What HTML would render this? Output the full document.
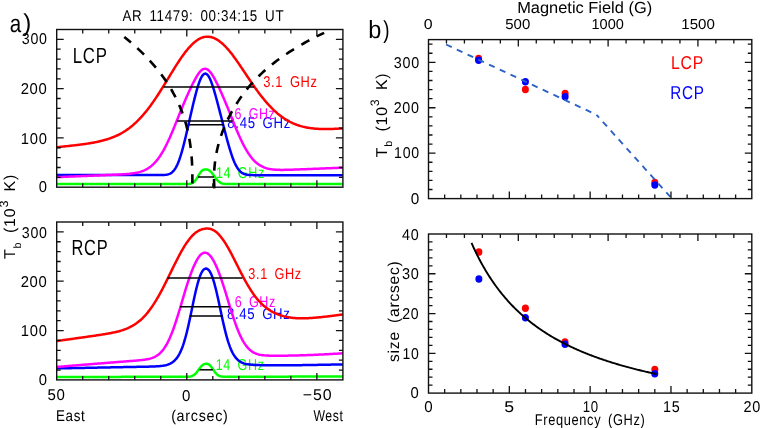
<!DOCTYPE html>
<html><head><meta charset="utf-8"><title>AR 11479</title>
<style>html,body{margin:0;padding:0;background:#fff;}body{width:760px;height:428px;overflow:hidden;font-family:"Liberation Sans",sans-serif;}svg{display:block;will-change:transform}</style>
</head><body>
<svg width="760" height="428" viewBox="0 0 760 428">
<rect width="760" height="428" fill="#fff"/>
<path d="M56.70 184.03 L57.66 184.03 L58.61 184.03 L59.57 184.03 L60.53 184.03 L61.49 184.03 L62.44 184.03 L63.40 184.03 L64.36 184.03 L65.31 184.03 L66.27 184.03 L67.23 184.03 L68.19 184.03 L69.14 184.03 L70.10 184.03 L71.06 184.03 L72.02 184.03 L72.97 184.03 L73.93 184.03 L74.89 184.03 L75.84 184.03 L76.80 184.03 L77.76 184.03 L78.72 184.03 L79.67 184.03 L80.63 184.03 L81.59 184.03 L82.54 184.03 L83.50 184.03 L84.46 184.03 L85.42 184.03 L86.37 184.03 L87.33 184.03 L88.29 184.03 L89.24 184.03 L90.20 184.03 L91.16 184.03 L92.12 184.03 L93.07 184.03 L94.03 184.03 L94.99 184.03 L95.94 184.03 L96.90 184.03 L97.86 184.03 L98.82 184.03 L99.77 184.03 L100.73 184.03 L101.69 184.03 L102.65 184.03 L103.60 184.03 L104.56 184.03 L105.52 184.03 L106.47 184.03 L107.43 184.03 L108.39 184.03 L109.35 184.03 L110.30 184.03 L111.26 184.03 L112.22 184.03 L113.17 184.02 L114.13 184.02 L115.09 184.02 L116.05 184.02 L117.00 184.02 L117.96 184.02 L118.92 184.02 L119.87 184.02 L120.83 184.02 L121.79 184.02 L122.75 184.02 L123.70 184.02 L124.66 184.02 L125.62 184.02 L126.57 184.02 L127.53 184.02 L128.49 184.02 L129.45 184.02 L130.40 184.02 L131.36 184.02 L132.32 184.02 L133.28 184.02 L134.23 184.02 L135.19 184.02 L136.15 184.02 L137.10 184.02 L138.06 184.02 L139.02 184.02 L139.98 184.02 L140.93 184.02 L141.89 184.02 L142.85 184.02 L143.80 184.02 L144.76 184.02 L145.72 184.02 L146.68 184.02 L147.63 184.02 L148.59 184.02 L149.55 184.02 L150.50 184.02 L151.46 184.02 L152.42 184.02 L153.38 184.02 L154.33 184.02 L155.29 184.02 L156.25 184.02 L157.21 184.02 L158.16 184.02 L159.12 184.02 L160.08 184.02 L161.03 184.02 L161.99 184.02 L162.95 184.02 L163.91 184.02 L164.86 184.02 L165.82 184.02 L166.78 184.02 L167.73 184.02 L168.69 184.02 L169.65 184.02 L170.61 184.02 L171.56 184.02 L172.52 184.02 L173.48 184.02 L174.43 184.02 L175.39 184.02 L176.35 184.02 L177.31 184.02 L178.26 184.02 L179.22 184.02 L180.18 184.02 L181.13 184.02 L182.09 184.02 L183.05 184.02 L184.01 184.02 L184.96 184.02 L185.92 184.01 L186.88 184.00 L187.84 183.98 L188.79 183.93 L189.75 183.83 L190.71 183.66 L191.66 183.38 L192.62 182.93 L193.58 182.28 L194.54 181.38 L195.49 180.23 L196.45 178.86 L197.41 177.32 L198.36 175.69 L199.32 174.11 L200.28 172.66 L201.24 171.44 L202.19 170.52 L203.15 169.91 L204.11 169.59 L205.06 169.48 L206.02 169.48 L206.98 169.57 L207.94 169.81 L208.89 170.24 L209.85 170.88 L210.81 171.73 L211.76 172.78 L212.72 173.99 L213.68 175.30 L214.64 176.65 L215.59 177.98 L216.55 179.22 L217.51 180.34 L218.47 181.29 L219.42 182.07 L220.38 182.68 L221.34 183.14 L222.29 183.46 L223.25 183.68 L224.21 183.82 L225.17 183.91 L226.12 183.96 L227.08 183.99 L228.04 184.00 L228.99 184.01 L229.95 184.01 L230.91 184.01 L231.87 184.01 L232.82 184.01 L233.78 184.01 L234.74 184.01 L235.69 184.01 L236.65 184.01 L237.61 184.01 L238.57 184.01 L239.52 184.01 L240.48 184.01 L241.44 184.01 L242.39 184.01 L243.35 184.01 L244.31 184.01 L245.27 184.01 L246.22 184.01 L247.18 184.01 L248.14 184.01 L249.10 184.01 L250.05 184.01 L251.01 184.01 L251.97 184.01 L252.92 184.01 L253.88 184.01 L254.84 184.01 L255.80 184.01 L256.75 184.01 L257.71 184.01 L258.67 184.01 L259.62 184.01 L260.58 184.01 L261.54 184.01 L262.50 184.01 L263.45 184.01 L264.41 184.01 L265.37 184.01 L266.32 184.01 L267.28 184.01 L268.24 184.01 L269.20 184.01 L270.15 184.01 L271.11 184.01 L272.07 184.01 L273.03 184.01 L273.98 184.01 L274.94 184.01 L275.90 184.01 L276.85 184.01 L277.81 184.01 L278.77 184.01 L279.73 184.01 L280.68 184.01 L281.64 184.01 L282.60 184.01 L283.55 184.01 L284.51 184.01 L285.47 184.01 L286.43 184.01 L287.38 184.01 L288.34 184.01 L289.30 184.01 L290.25 184.01 L291.21 184.01 L292.17 184.01 L293.13 184.01 L294.08 184.01 L295.04 184.01 L296.00 184.01 L296.95 184.01 L297.91 184.01 L298.87 184.01 L299.83 184.01 L300.78 184.01 L301.74 184.01 L302.70 184.01 L303.66 184.01 L304.61 184.01 L305.57 184.01 L306.53 184.01 L307.48 184.01 L308.44 184.01 L309.40 184.01 L310.36 184.01 L311.31 184.01 L312.27 184.01 L313.23 184.00 L314.18 184.00 L315.14 184.00 L316.10 184.00 L317.06 184.00 L318.01 184.00 L318.97 184.00 L319.93 184.00 L320.88 184.00 L321.84 184.00 L322.80 184.00 L323.76 184.00 L324.71 184.00 L325.67 184.00 L326.63 184.00 L327.58 184.00 L328.54 184.00 L329.50 184.00 L330.46 184.00 L331.41 184.00 L332.37 184.00 L333.33 184.00 L334.29 184.00 L335.24 184.00 L336.20 184.00 L337.16 184.00 L338.11 184.00 L339.07 184.00 L340.03 184.00 L340.99 184.00 L341.94 184.00 L342.90 184.00" stroke="#00ff00" stroke-width="2.5" fill="none" stroke-linejoin="round"/>
<text id="g14_1" font-family="Liberation Sans, sans-serif" font-size="15.70" fill="#00ff00" letter-spacing="0.05em" word-spacing="0.2em" textLength="48.99" lengthAdjust="spacingAndGlyphs" text-rendering="geometricPrecision" x="215.94" y="177.75" xml:space="preserve">14 GHz</text>
<path d="M56.70 174.98 L57.66 174.98 L58.61 174.98 L59.57 174.98 L60.53 174.99 L61.49 174.99 L62.44 174.99 L63.40 174.99 L64.36 174.99 L65.31 174.99 L66.27 174.99 L67.23 174.99 L68.19 174.99 L69.14 174.99 L70.10 174.99 L71.06 174.99 L72.02 175.00 L72.97 175.00 L73.93 175.00 L74.89 175.00 L75.84 175.00 L76.80 175.00 L77.76 175.00 L78.72 175.00 L79.67 175.00 L80.63 175.00 L81.59 175.00 L82.54 175.00 L83.50 175.01 L84.46 175.01 L85.42 175.01 L86.37 175.01 L87.33 175.01 L88.29 175.01 L89.24 175.01 L90.20 175.01 L91.16 175.01 L92.12 175.01 L93.07 175.01 L94.03 175.02 L94.99 175.02 L95.94 175.02 L96.90 175.02 L97.86 175.02 L98.82 175.02 L99.77 175.02 L100.73 175.02 L101.69 175.02 L102.65 175.02 L103.60 175.02 L104.56 175.02 L105.52 175.03 L106.47 175.03 L107.43 175.03 L108.39 175.03 L109.35 175.03 L110.30 175.03 L111.26 175.03 L112.22 175.03 L113.17 175.03 L114.13 175.03 L115.09 175.03 L116.05 175.04 L117.00 175.04 L117.96 175.04 L118.92 175.04 L119.87 175.04 L120.83 175.04 L121.79 175.04 L122.75 175.04 L123.70 175.04 L124.66 175.04 L125.62 175.04 L126.57 175.04 L127.53 175.05 L128.49 175.05 L129.45 175.05 L130.40 175.05 L131.36 175.05 L132.32 175.05 L133.28 175.05 L134.23 175.05 L135.19 175.05 L136.15 175.05 L137.10 175.05 L138.06 175.05 L139.02 175.06 L139.98 175.06 L140.93 175.06 L141.89 175.06 L142.85 175.06 L143.80 175.06 L144.76 175.06 L145.72 175.06 L146.68 175.06 L147.63 175.06 L148.59 175.06 L149.55 175.07 L150.50 175.07 L151.46 175.07 L152.42 175.07 L153.38 175.07 L154.33 175.07 L155.29 175.07 L156.25 175.07 L157.21 175.07 L158.16 175.07 L159.12 175.06 L160.08 175.06 L161.03 175.05 L161.99 175.03 L162.95 175.00 L163.91 174.95 L164.86 174.88 L165.82 174.78 L166.78 174.64 L167.73 174.44 L168.69 174.17 L169.65 173.81 L170.61 173.33 L171.56 172.71 L172.52 171.93 L173.48 170.96 L174.43 169.77 L175.39 168.35 L176.35 166.67 L177.31 164.72 L178.26 162.49 L179.22 159.98 L180.18 157.20 L181.13 154.15 L182.09 150.86 L183.05 147.34 L184.01 143.63 L184.96 139.76 L185.92 135.76 L186.88 131.65 L187.84 127.48 L188.79 123.27 L189.75 119.04 L190.71 114.83 L191.66 110.66 L192.62 106.55 L193.58 102.53 L194.54 98.63 L195.49 94.87 L196.45 91.29 L197.41 87.94 L198.36 84.84 L199.32 82.05 L200.28 79.60 L201.24 77.54 L202.19 75.89 L203.15 74.68 L204.11 73.92 L205.06 73.61 L206.02 73.74 L206.98 74.31 L207.94 75.32 L208.89 76.75 L209.85 78.59 L210.81 80.80 L211.76 83.33 L212.72 86.13 L213.68 89.17 L214.64 92.40 L215.59 95.77 L216.55 99.26 L217.51 102.83 L218.47 106.46 L219.42 110.13 L220.38 113.84 L221.34 117.56 L222.29 121.28 L223.25 125.01 L224.21 128.72 L225.17 132.39 L226.12 136.02 L227.08 139.58 L228.04 143.05 L228.99 146.41 L229.95 149.62 L230.91 152.68 L231.87 155.55 L232.82 158.23 L233.78 160.68 L234.74 162.92 L235.69 164.92 L236.65 166.70 L237.61 168.25 L238.57 169.58 L239.52 170.72 L240.48 171.67 L241.44 172.45 L242.39 173.09 L243.35 173.60 L244.31 174.00 L245.27 174.31 L246.22 174.55 L247.18 174.73 L248.14 174.86 L249.10 174.95 L250.05 175.02 L251.01 175.07 L251.97 175.10 L252.92 175.12 L253.88 175.14 L254.84 175.15 L255.80 175.15 L256.75 175.16 L257.71 175.16 L258.67 175.16 L259.62 175.16 L260.58 175.16 L261.54 175.17 L262.50 175.17 L263.45 175.17 L264.41 175.17 L265.37 175.17 L266.32 175.17 L267.28 175.17 L268.24 175.17 L269.20 175.17 L270.15 175.17 L271.11 175.17 L272.07 175.18 L273.03 175.18 L273.98 175.18 L274.94 175.18 L275.90 175.18 L276.85 175.18 L277.81 175.18 L278.77 175.18 L279.73 175.18 L280.68 175.18 L281.64 175.18 L282.60 175.19 L283.55 175.19 L284.51 175.19 L285.47 175.19 L286.43 175.19 L287.38 175.19 L288.34 175.19 L289.30 175.19 L290.25 175.19 L291.21 175.19 L292.17 175.19 L293.13 175.19 L294.08 175.20 L295.04 175.20 L296.00 175.20 L296.95 175.20 L297.91 175.20 L298.87 175.20 L299.83 175.20 L300.78 175.20 L301.74 175.20 L302.70 175.20 L303.66 175.20 L304.61 175.20 L305.57 175.21 L306.53 175.21 L307.48 175.21 L308.44 175.21 L309.40 175.21 L310.36 175.21 L311.31 175.21 L312.27 175.21 L313.23 175.21 L314.18 175.21 L315.14 175.21 L316.10 175.22 L317.06 175.22 L318.01 175.22 L318.97 175.22 L319.93 175.22 L320.88 175.22 L321.84 175.22 L322.80 175.22 L323.76 175.22 L324.71 175.22 L325.67 175.22 L326.63 175.22 L327.58 175.23 L328.54 175.23 L329.50 175.23 L330.46 175.23 L331.41 175.23 L332.37 175.23 L333.33 175.23 L334.29 175.23 L335.24 175.23 L336.20 175.23 L337.16 175.23 L338.11 175.24 L339.07 175.24 L340.03 175.24 L340.99 175.24 L341.94 175.24 L342.90 175.24" stroke="#0000ff" stroke-width="2.5" fill="none" stroke-linejoin="round"/>
<text id="g845_1" font-family="Liberation Sans, sans-serif" font-size="15.70" fill="#0000ff" letter-spacing="0.05em" word-spacing="0.2em" textLength="63.62" lengthAdjust="spacingAndGlyphs" text-rendering="geometricPrecision" x="227.34" y="128.00" xml:space="preserve">8.45 GHz</text>
<path d="M56.70 177.11 L57.66 177.07 L58.61 177.03 L59.57 176.99 L60.53 176.96 L61.49 176.92 L62.44 176.88 L63.40 176.84 L64.36 176.80 L65.31 176.76 L66.27 176.72 L67.23 176.69 L68.19 176.65 L69.14 176.61 L70.10 176.57 L71.06 176.53 L72.02 176.49 L72.97 176.46 L73.93 176.42 L74.89 176.38 L75.84 176.34 L76.80 176.30 L77.76 176.26 L78.72 176.22 L79.67 176.19 L80.63 176.15 L81.59 176.11 L82.54 176.07 L83.50 176.03 L84.46 175.99 L85.42 175.96 L86.37 175.92 L87.33 175.88 L88.29 175.84 L89.24 175.80 L90.20 175.76 L91.16 175.72 L92.12 175.69 L93.07 175.65 L94.03 175.61 L94.99 175.57 L95.94 175.53 L96.90 175.49 L97.86 175.45 L98.82 175.42 L99.77 175.38 L100.73 175.34 L101.69 175.30 L102.65 175.26 L103.60 175.22 L104.56 175.18 L105.52 175.14 L106.47 175.11 L107.43 175.07 L108.39 175.03 L109.35 174.99 L110.30 174.95 L111.26 174.91 L112.22 174.86 L113.17 174.82 L114.13 174.78 L115.09 174.74 L116.05 174.69 L117.00 174.65 L117.96 174.60 L118.92 174.55 L119.87 174.50 L120.83 174.45 L121.79 174.40 L122.75 174.34 L123.70 174.28 L124.66 174.21 L125.62 174.14 L126.57 174.07 L127.53 173.99 L128.49 173.90 L129.45 173.81 L130.40 173.71 L131.36 173.60 L132.32 173.47 L133.28 173.34 L134.23 173.19 L135.19 173.03 L136.15 172.85 L137.10 172.65 L138.06 172.43 L139.02 172.19 L139.98 171.92 L140.93 171.63 L141.89 171.31 L142.85 170.95 L143.80 170.56 L144.76 170.14 L145.72 169.67 L146.68 169.16 L147.63 168.61 L148.59 168.00 L149.55 167.35 L150.50 166.64 L151.46 165.87 L152.42 165.04 L153.38 164.15 L154.33 163.19 L155.29 162.16 L156.25 161.07 L157.21 159.90 L158.16 158.65 L159.12 157.33 L160.08 155.94 L161.03 154.47 L161.99 152.92 L162.95 151.30 L163.91 149.60 L164.86 147.82 L165.82 145.97 L166.78 144.05 L167.73 142.07 L168.69 140.02 L169.65 137.91 L170.61 135.74 L171.56 133.53 L172.52 131.27 L173.48 128.97 L174.43 126.63 L175.39 124.27 L176.35 121.90 L177.31 119.51 L178.26 117.11 L179.22 114.72 L180.18 112.34 L181.13 109.97 L182.09 107.62 L183.05 105.30 L184.01 103.01 L184.96 100.75 L185.92 98.53 L186.88 96.34 L187.84 94.20 L188.79 92.09 L189.75 90.02 L190.71 87.99 L191.66 86.00 L192.62 84.05 L193.58 82.16 L194.54 80.32 L195.49 78.56 L196.45 76.88 L197.41 75.30 L198.36 73.85 L199.32 72.55 L200.28 71.41 L201.24 70.46 L202.19 69.71 L203.15 69.18 L204.11 68.88 L205.06 68.79 L206.02 68.90 L206.98 69.23 L207.94 69.78 L208.89 70.56 L209.85 71.55 L210.81 72.72 L211.76 74.07 L212.72 75.56 L213.68 77.18 L214.64 78.90 L215.59 80.72 L216.55 82.60 L217.51 84.55 L218.47 86.54 L219.42 88.59 L220.38 90.67 L221.34 92.79 L222.29 94.95 L223.25 97.15 L224.21 99.38 L225.17 101.65 L226.12 103.95 L227.08 106.28 L228.04 108.64 L228.99 111.01 L229.95 113.40 L230.91 115.80 L231.87 118.20 L232.82 120.60 L233.78 122.98 L234.74 125.35 L235.69 127.68 L236.65 129.99 L237.61 132.25 L238.57 134.46 L239.52 136.62 L240.48 138.72 L241.44 140.76 L242.39 142.74 L243.35 144.64 L244.31 146.46 L245.27 148.21 L246.22 149.88 L247.18 151.47 L248.14 152.99 L249.10 154.41 L250.05 155.76 L251.01 157.03 L251.97 158.22 L252.92 159.33 L253.88 160.37 L254.84 161.33 L255.80 162.23 L256.75 163.05 L257.71 163.81 L258.67 164.50 L259.62 165.14 L260.58 165.72 L261.54 166.24 L262.50 166.72 L263.45 167.14 L264.41 167.53 L265.37 167.87 L266.32 168.18 L267.28 168.45 L268.24 168.69 L269.20 168.90 L270.15 169.08 L271.11 169.23 L272.07 169.37 L273.03 169.48 L273.98 169.58 L274.94 169.66 L275.90 169.73 L276.85 169.78 L277.81 169.82 L278.77 169.85 L279.73 169.87 L280.68 169.88 L281.64 169.89 L282.60 169.89 L283.55 169.88 L284.51 169.87 L285.47 169.86 L286.43 169.84 L287.38 169.82 L288.34 169.79 L289.30 169.77 L290.25 169.74 L291.21 169.71 L292.17 169.68 L293.13 169.64 L294.08 169.61 L295.04 169.58 L296.00 169.54 L296.95 169.51 L297.91 169.47 L298.87 169.43 L299.83 169.40 L300.78 169.36 L301.74 169.32 L302.70 169.28 L303.66 169.25 L304.61 169.21 L305.57 169.17 L306.53 169.13 L307.48 169.09 L308.44 169.06 L309.40 169.02 L310.36 168.98 L311.31 168.94 L312.27 168.90 L313.23 168.86 L314.18 168.83 L315.14 168.79 L316.10 168.75 L317.06 168.71 L318.01 168.67 L318.97 168.63 L319.93 168.59 L320.88 168.56 L321.84 168.52 L322.80 168.48 L323.76 168.44 L324.71 168.40 L325.67 168.36 L326.63 168.33 L327.58 168.29 L328.54 168.25 L329.50 168.21 L330.46 168.17 L331.41 168.13 L332.37 168.09 L333.33 168.06 L334.29 168.02 L335.24 167.98 L336.20 167.94 L337.16 167.90 L338.11 167.86 L339.07 167.83 L340.03 167.79 L340.99 167.75 L341.94 167.71 L342.90 167.67" stroke="#ff00ff" stroke-width="2.5" fill="none" stroke-linejoin="round"/>
<text id="g6_1" font-family="Liberation Sans, sans-serif" font-size="15.70" fill="#ff00ff" letter-spacing="0.05em" word-spacing="0.2em" textLength="40.85" lengthAdjust="spacingAndGlyphs" text-rendering="geometricPrecision" x="234.57" y="118.78" xml:space="preserve">6 GHz</text>
<path d="M56.70 147.21 L57.66 147.12 L58.61 147.02 L59.57 146.92 L60.53 146.83 L61.49 146.73 L62.44 146.63 L63.40 146.53 L64.36 146.43 L65.31 146.33 L66.27 146.23 L67.23 146.13 L68.19 146.02 L69.14 145.92 L70.10 145.81 L71.06 145.71 L72.02 145.60 L72.97 145.49 L73.93 145.38 L74.89 145.27 L75.84 145.16 L76.80 145.04 L77.76 144.93 L78.72 144.81 L79.67 144.69 L80.63 144.56 L81.59 144.44 L82.54 144.31 L83.50 144.18 L84.46 144.04 L85.42 143.90 L86.37 143.76 L87.33 143.62 L88.29 143.47 L89.24 143.32 L90.20 143.16 L91.16 143.00 L92.12 142.83 L93.07 142.66 L94.03 142.48 L94.99 142.30 L95.94 142.11 L96.90 141.91 L97.86 141.71 L98.82 141.50 L99.77 141.28 L100.73 141.05 L101.69 140.82 L102.65 140.58 L103.60 140.32 L104.56 140.06 L105.52 139.78 L106.47 139.50 L107.43 139.20 L108.39 138.90 L109.35 138.58 L110.30 138.24 L111.26 137.90 L112.22 137.54 L113.17 137.16 L114.13 136.77 L115.09 136.36 L116.05 135.94 L117.00 135.50 L117.96 135.04 L118.92 134.57 L119.87 134.08 L120.83 133.56 L121.79 133.03 L122.75 132.48 L123.70 131.90 L124.66 131.31 L125.62 130.69 L126.57 130.05 L127.53 129.39 L128.49 128.70 L129.45 127.99 L130.40 127.25 L131.36 126.49 L132.32 125.71 L133.28 124.89 L134.23 124.06 L135.19 123.19 L136.15 122.30 L137.10 121.38 L138.06 120.44 L139.02 119.46 L139.98 118.46 L140.93 117.43 L141.89 116.38 L142.85 115.29 L143.80 114.18 L144.76 113.04 L145.72 111.88 L146.68 110.69 L147.63 109.47 L148.59 108.22 L149.55 106.95 L150.50 105.66 L151.46 104.34 L152.42 103.00 L153.38 101.63 L154.33 100.24 L155.29 98.83 L156.25 97.40 L157.21 95.95 L158.16 94.49 L159.12 93.00 L160.08 91.50 L161.03 89.99 L161.99 88.46 L162.95 86.92 L163.91 85.37 L164.86 83.82 L165.82 82.26 L166.78 80.69 L167.73 79.12 L168.69 77.55 L169.65 75.98 L170.61 74.41 L171.56 72.84 L172.52 71.29 L173.48 69.74 L174.43 68.20 L175.39 66.68 L176.35 65.17 L177.31 63.67 L178.26 62.20 L179.22 60.75 L180.18 59.32 L181.13 57.92 L182.09 56.55 L183.05 55.20 L184.01 53.89 L184.96 52.61 L185.92 51.37 L186.88 50.17 L187.84 49.01 L188.79 47.89 L189.75 46.81 L190.71 45.79 L191.66 44.80 L192.62 43.87 L193.58 42.99 L194.54 42.16 L195.49 41.39 L196.45 40.67 L197.41 40.01 L198.36 39.41 L199.32 38.86 L200.28 38.38 L201.24 37.95 L202.19 37.59 L203.15 37.29 L204.11 37.05 L205.06 36.88 L206.02 36.76 L206.98 36.71 L207.94 36.72 L208.89 36.78 L209.85 36.90 L210.81 37.08 L211.76 37.31 L212.72 37.60 L213.68 37.95 L214.64 38.35 L215.59 38.81 L216.55 39.32 L217.51 39.89 L218.47 40.51 L219.42 41.18 L220.38 41.90 L221.34 42.68 L222.29 43.50 L223.25 44.37 L224.21 45.29 L225.17 46.25 L226.12 47.26 L227.08 48.30 L228.04 49.39 L228.99 50.52 L229.95 51.68 L230.91 52.87 L231.87 54.09 L232.82 55.35 L233.78 56.63 L234.74 57.94 L235.69 59.27 L236.65 60.62 L237.61 61.98 L238.57 63.37 L239.52 64.77 L240.48 66.18 L241.44 67.60 L242.39 69.02 L243.35 70.45 L244.31 71.89 L245.27 73.32 L246.22 74.76 L247.18 76.19 L248.14 77.62 L249.10 79.05 L250.05 80.46 L251.01 81.87 L251.97 83.27 L252.92 84.65 L253.88 86.03 L254.84 87.39 L255.80 88.73 L256.75 90.06 L257.71 91.37 L258.67 92.66 L259.62 93.93 L260.58 95.18 L261.54 96.41 L262.50 97.62 L263.45 98.81 L264.41 99.97 L265.37 101.12 L266.32 102.23 L267.28 103.33 L268.24 104.40 L269.20 105.44 L270.15 106.46 L271.11 107.45 L272.07 108.42 L273.03 109.36 L273.98 110.28 L274.94 111.17 L275.90 112.04 L276.85 112.87 L277.81 113.69 L278.77 114.47 L279.73 115.24 L280.68 115.97 L281.64 116.68 L282.60 117.37 L283.55 118.03 L284.51 118.67 L285.47 119.28 L286.43 119.87 L287.38 120.43 L288.34 120.97 L289.30 121.49 L290.25 121.99 L291.21 122.47 L292.17 122.92 L293.13 123.35 L294.08 123.77 L295.04 124.16 L296.00 124.53 L296.95 124.89 L297.91 125.22 L298.87 125.54 L299.83 125.84 L300.78 126.12 L301.74 126.39 L302.70 126.64 L303.66 126.87 L304.61 127.09 L305.57 127.30 L306.53 127.49 L307.48 127.66 L308.44 127.83 L309.40 127.98 L310.36 128.12 L311.31 128.25 L312.27 128.36 L313.23 128.47 L314.18 128.57 L315.14 128.65 L316.10 128.73 L317.06 128.79 L318.01 128.85 L318.97 128.90 L319.93 128.94 L320.88 128.98 L321.84 129.01 L322.80 129.03 L323.76 129.04 L324.71 129.05 L325.67 129.05 L326.63 129.05 L327.58 129.04 L328.54 129.02 L329.50 129.00 L330.46 128.98 L331.41 128.95 L332.37 128.92 L333.33 128.88 L334.29 128.84 L335.24 128.80 L336.20 128.75 L337.16 128.70 L338.11 128.65 L339.07 128.60 L340.03 128.54 L340.99 128.48 L341.94 128.42 L342.90 128.35" stroke="#ff0000" stroke-width="2.5" fill="none" stroke-linejoin="round"/>
<text id="g31_1" font-family="Liberation Sans, sans-serif" font-size="15.70" fill="#ff0000" letter-spacing="0.05em" word-spacing="0.2em" textLength="54.26" lengthAdjust="spacingAndGlyphs" text-rendering="geometricPrecision" x="263.30" y="87.05" xml:space="preserve">3.1 GHz</text>
<path d="M56.70 376.97 L57.66 376.97 L58.61 376.97 L59.57 376.97 L60.53 376.97 L61.49 376.97 L62.44 376.96 L63.40 376.96 L64.36 376.96 L65.31 376.96 L66.27 376.96 L67.23 376.96 L68.19 376.96 L69.14 376.95 L70.10 376.95 L71.06 376.95 L72.02 376.95 L72.97 376.95 L73.93 376.95 L74.89 376.95 L75.84 376.94 L76.80 376.94 L77.76 376.94 L78.72 376.94 L79.67 376.94 L80.63 376.94 L81.59 376.94 L82.54 376.93 L83.50 376.93 L84.46 376.93 L85.42 376.93 L86.37 376.93 L87.33 376.93 L88.29 376.93 L89.24 376.92 L90.20 376.92 L91.16 376.92 L92.12 376.92 L93.07 376.92 L94.03 376.92 L94.99 376.92 L95.94 376.91 L96.90 376.91 L97.86 376.91 L98.82 376.91 L99.77 376.91 L100.73 376.91 L101.69 376.91 L102.65 376.90 L103.60 376.90 L104.56 376.90 L105.52 376.90 L106.47 376.90 L107.43 376.90 L108.39 376.90 L109.35 376.89 L110.30 376.89 L111.26 376.89 L112.22 376.89 L113.17 376.89 L114.13 376.89 L115.09 376.88 L116.05 376.88 L117.00 376.88 L117.96 376.88 L118.92 376.88 L119.87 376.88 L120.83 376.88 L121.79 376.87 L122.75 376.87 L123.70 376.87 L124.66 376.87 L125.62 376.87 L126.57 376.87 L127.53 376.87 L128.49 376.86 L129.45 376.86 L130.40 376.86 L131.36 376.86 L132.32 376.86 L133.28 376.86 L134.23 376.86 L135.19 376.85 L136.15 376.85 L137.10 376.85 L138.06 376.85 L139.02 376.85 L139.98 376.85 L140.93 376.85 L141.89 376.84 L142.85 376.84 L143.80 376.84 L144.76 376.84 L145.72 376.84 L146.68 376.84 L147.63 376.84 L148.59 376.83 L149.55 376.83 L150.50 376.83 L151.46 376.83 L152.42 376.83 L153.38 376.83 L154.33 376.83 L155.29 376.82 L156.25 376.82 L157.21 376.82 L158.16 376.82 L159.12 376.82 L160.08 376.82 L161.03 376.82 L161.99 376.81 L162.95 376.81 L163.91 376.81 L164.86 376.81 L165.82 376.81 L166.78 376.81 L167.73 376.81 L168.69 376.80 L169.65 376.80 L170.61 376.80 L171.56 376.80 L172.52 376.80 L173.48 376.80 L174.43 376.80 L175.39 376.79 L176.35 376.79 L177.31 376.79 L178.26 376.79 L179.22 376.79 L180.18 376.79 L181.13 376.79 L182.09 376.78 L183.05 376.78 L184.01 376.78 L184.96 376.77 L185.92 376.76 L186.88 376.75 L187.84 376.71 L188.79 376.65 L189.75 376.55 L190.71 376.38 L191.66 376.12 L192.62 375.74 L193.58 375.21 L194.54 374.50 L195.49 373.62 L196.45 372.56 L197.41 371.36 L198.36 370.06 L199.32 368.74 L200.28 367.47 L201.24 366.33 L202.19 365.37 L203.15 364.63 L204.11 364.14 L205.06 363.88 L206.02 363.80 L206.98 363.83 L207.94 364.04 L208.89 364.50 L209.85 365.25 L210.81 366.27 L211.76 367.50 L212.72 368.88 L213.68 370.31 L214.64 371.69 L215.59 372.94 L216.55 374.01 L217.51 374.87 L218.47 375.52 L219.42 375.98 L220.38 376.29 L221.34 376.48 L222.29 376.60 L223.25 376.66 L224.21 376.69 L225.17 376.71 L226.12 376.71 L227.08 376.71 L228.04 376.71 L228.99 376.71 L229.95 376.71 L230.91 376.71 L231.87 376.71 L232.82 376.71 L233.78 376.71 L234.74 376.71 L235.69 376.70 L236.65 376.70 L237.61 376.70 L238.57 376.70 L239.52 376.70 L240.48 376.70 L241.44 376.70 L242.39 376.69 L243.35 376.69 L244.31 376.69 L245.27 376.69 L246.22 376.69 L247.18 376.69 L248.14 376.69 L249.10 376.68 L250.05 376.68 L251.01 376.68 L251.97 376.68 L252.92 376.68 L253.88 376.68 L254.84 376.68 L255.80 376.67 L256.75 376.67 L257.71 376.67 L258.67 376.67 L259.62 376.67 L260.58 376.67 L261.54 376.67 L262.50 376.66 L263.45 376.66 L264.41 376.66 L265.37 376.66 L266.32 376.66 L267.28 376.66 L268.24 376.66 L269.20 376.65 L270.15 376.65 L271.11 376.65 L272.07 376.65 L273.03 376.65 L273.98 376.65 L274.94 376.65 L275.90 376.64 L276.85 376.64 L277.81 376.64 L278.77 376.64 L279.73 376.64 L280.68 376.64 L281.64 376.64 L282.60 376.63 L283.55 376.63 L284.51 376.63 L285.47 376.63 L286.43 376.63 L287.38 376.63 L288.34 376.63 L289.30 376.62 L290.25 376.62 L291.21 376.62 L292.17 376.62 L293.13 376.62 L294.08 376.62 L295.04 376.62 L296.00 376.61 L296.95 376.61 L297.91 376.61 L298.87 376.61 L299.83 376.61 L300.78 376.61 L301.74 376.60 L302.70 376.60 L303.66 376.60 L304.61 376.60 L305.57 376.60 L306.53 376.60 L307.48 376.60 L308.44 376.59 L309.40 376.59 L310.36 376.59 L311.31 376.59 L312.27 376.59 L313.23 376.59 L314.18 376.59 L315.14 376.58 L316.10 376.58 L317.06 376.58 L318.01 376.58 L318.97 376.58 L319.93 376.58 L320.88 376.58 L321.84 376.57 L322.80 376.57 L323.76 376.57 L324.71 376.57 L325.67 376.57 L326.63 376.57 L327.58 376.57 L328.54 376.56 L329.50 376.56 L330.46 376.56 L331.41 376.56 L332.37 376.56 L333.33 376.56 L334.29 376.56 L335.24 376.55 L336.20 376.55 L337.16 376.55 L338.11 376.55 L339.07 376.55 L340.03 376.55 L340.99 376.55 L341.94 376.54 L342.90 376.54" stroke="#00ff00" stroke-width="2.5" fill="none" stroke-linejoin="round"/>
<text id="g14_2" font-family="Liberation Sans, sans-serif" font-size="15.70" fill="#00ff00" letter-spacing="0.05em" word-spacing="0.2em" textLength="48.91" lengthAdjust="spacingAndGlyphs" text-rendering="geometricPrecision" x="215.68" y="369.64" xml:space="preserve">14 GHz</text>
<path d="M56.70 368.41 L57.66 368.39 L58.61 368.37 L59.57 368.36 L60.53 368.34 L61.49 368.32 L62.44 368.30 L63.40 368.28 L64.36 368.26 L65.31 368.25 L66.27 368.23 L67.23 368.21 L68.19 368.19 L69.14 368.17 L70.10 368.15 L71.06 368.13 L72.02 368.12 L72.97 368.10 L73.93 368.08 L74.89 368.06 L75.84 368.04 L76.80 368.02 L77.76 368.01 L78.72 367.99 L79.67 367.97 L80.63 367.95 L81.59 367.93 L82.54 367.91 L83.50 367.90 L84.46 367.88 L85.42 367.86 L86.37 367.84 L87.33 367.82 L88.29 367.80 L89.24 367.79 L90.20 367.77 L91.16 367.75 L92.12 367.73 L93.07 367.71 L94.03 367.69 L94.99 367.68 L95.94 367.66 L96.90 367.64 L97.86 367.62 L98.82 367.60 L99.77 367.58 L100.73 367.57 L101.69 367.55 L102.65 367.53 L103.60 367.51 L104.56 367.49 L105.52 367.47 L106.47 367.45 L107.43 367.44 L108.39 367.42 L109.35 367.40 L110.30 367.38 L111.26 367.36 L112.22 367.34 L113.17 367.33 L114.13 367.31 L115.09 367.29 L116.05 367.27 L117.00 367.25 L117.96 367.23 L118.92 367.22 L119.87 367.20 L120.83 367.18 L121.79 367.16 L122.75 367.14 L123.70 367.12 L124.66 367.11 L125.62 367.09 L126.57 367.07 L127.53 367.05 L128.49 367.03 L129.45 367.01 L130.40 367.00 L131.36 366.98 L132.32 366.96 L133.28 366.94 L134.23 366.92 L135.19 366.90 L136.15 366.88 L137.10 366.87 L138.06 366.85 L139.02 366.83 L139.98 366.81 L140.93 366.79 L141.89 366.77 L142.85 366.75 L143.80 366.73 L144.76 366.71 L145.72 366.69 L146.68 366.67 L147.63 366.65 L148.59 366.63 L149.55 366.60 L150.50 366.58 L151.46 366.55 L152.42 366.52 L153.38 366.49 L154.33 366.45 L155.29 366.41 L156.25 366.36 L157.21 366.31 L158.16 366.25 L159.12 366.18 L160.08 366.09 L161.03 365.99 L161.99 365.88 L162.95 365.74 L163.91 365.59 L164.86 365.40 L165.82 365.18 L166.78 364.93 L167.73 364.63 L168.69 364.29 L169.65 363.89 L170.61 363.42 L171.56 362.88 L172.52 362.26 L173.48 361.53 L174.43 360.70 L175.39 359.74 L176.35 358.64 L177.31 357.38 L178.26 355.94 L179.22 354.29 L180.18 352.43 L181.13 350.32 L182.09 347.96 L183.05 345.32 L184.01 342.41 L184.96 339.21 L185.92 335.73 L186.88 331.98 L187.84 327.98 L188.79 323.77 L189.75 319.37 L190.71 314.85 L191.66 310.25 L192.62 305.64 L193.58 301.07 L194.54 296.61 L195.49 292.33 L196.45 288.28 L197.41 284.52 L198.36 281.10 L199.32 278.06 L200.28 275.43 L201.24 273.23 L202.19 271.47 L203.15 270.14 L204.11 269.24 L205.06 268.74 L206.02 268.60 L206.98 268.77 L207.94 269.31 L208.89 270.24 L209.85 271.58 L210.81 273.34 L211.76 275.53 L212.72 278.12 L213.68 281.10 L214.64 284.44 L215.59 288.11 L216.55 292.05 L217.51 296.22 L218.47 300.55 L219.42 305.00 L220.38 309.50 L221.34 314.00 L222.29 318.43 L223.25 322.75 L224.21 326.90 L225.17 330.86 L226.12 334.59 L227.08 338.06 L228.04 341.27 L228.99 344.20 L229.95 346.86 L230.91 349.24 L231.87 351.37 L232.82 353.26 L233.78 354.92 L234.74 356.37 L235.69 357.64 L236.65 358.74 L237.61 359.69 L238.57 360.51 L239.52 361.22 L240.48 361.82 L241.44 362.34 L242.39 362.78 L243.35 363.16 L244.31 363.48 L245.27 363.75 L246.22 363.98 L247.18 364.18 L248.14 364.34 L249.10 364.48 L250.05 364.59 L251.01 364.69 L251.97 364.77 L252.92 364.84 L253.88 364.90 L254.84 364.95 L255.80 364.99 L256.75 365.02 L257.71 365.05 L258.67 365.08 L259.62 365.10 L260.58 365.13 L261.54 365.14 L262.50 365.16 L263.45 365.18 L264.41 365.19 L265.37 365.20 L266.32 365.22 L267.28 365.23 L268.24 365.24 L269.20 365.25 L270.15 365.26 L271.11 365.26 L272.07 365.27 L273.03 365.28 L273.98 365.29 L274.94 365.29 L275.90 365.30 L276.85 365.30 L277.81 365.30 L278.77 365.30 L279.73 365.31 L280.68 365.31 L281.64 365.30 L282.60 365.30 L283.55 365.30 L284.51 365.30 L285.47 365.29 L286.43 365.29 L287.38 365.28 L288.34 365.28 L289.30 365.27 L290.25 365.26 L291.21 365.26 L292.17 365.25 L293.13 365.24 L294.08 365.23 L295.04 365.22 L296.00 365.21 L296.95 365.20 L297.91 365.18 L298.87 365.17 L299.83 365.16 L300.78 365.15 L301.74 365.13 L302.70 365.12 L303.66 365.10 L304.61 365.09 L305.57 365.08 L306.53 365.06 L307.48 365.05 L308.44 365.03 L309.40 365.01 L310.36 365.00 L311.31 364.98 L312.27 364.97 L313.23 364.95 L314.18 364.93 L315.14 364.92 L316.10 364.90 L317.06 364.88 L318.01 364.87 L318.97 364.85 L319.93 364.83 L320.88 364.82 L321.84 364.80 L322.80 364.78 L323.76 364.76 L324.71 364.75 L325.67 364.73 L326.63 364.71 L327.58 364.69 L328.54 364.67 L329.50 364.66 L330.46 364.64 L331.41 364.62 L332.37 364.60 L333.33 364.59 L334.29 364.57 L335.24 364.55 L336.20 364.53 L337.16 364.51 L338.11 364.50 L339.07 364.48 L340.03 364.46 L340.99 364.44 L341.94 364.42 L342.90 364.40" stroke="#0000ff" stroke-width="2.5" fill="none" stroke-linejoin="round"/>
<text id="g845_2" font-family="Liberation Sans, sans-serif" font-size="15.70" fill="#0000ff" letter-spacing="0.05em" word-spacing="0.2em" textLength="63.70" lengthAdjust="spacingAndGlyphs" text-rendering="geometricPrecision" x="226.89" y="319.00" xml:space="preserve">8.45 GHz</text>
<path d="M56.70 366.94 L57.66 366.86 L58.61 366.78 L59.57 366.70 L60.53 366.63 L61.49 366.55 L62.44 366.47 L63.40 366.39 L64.36 366.31 L65.31 366.24 L66.27 366.16 L67.23 366.08 L68.19 366.00 L69.14 365.93 L70.10 365.85 L71.06 365.77 L72.02 365.69 L72.97 365.61 L73.93 365.54 L74.89 365.46 L75.84 365.38 L76.80 365.30 L77.76 365.23 L78.72 365.15 L79.67 365.07 L80.63 364.99 L81.59 364.92 L82.54 364.84 L83.50 364.76 L84.46 364.69 L85.42 364.61 L86.37 364.53 L87.33 364.45 L88.29 364.38 L89.24 364.30 L90.20 364.22 L91.16 364.15 L92.12 364.07 L93.07 363.99 L94.03 363.91 L94.99 363.84 L95.94 363.76 L96.90 363.68 L97.86 363.61 L98.82 363.53 L99.77 363.46 L100.73 363.38 L101.69 363.30 L102.65 363.23 L103.60 363.15 L104.56 363.07 L105.52 363.00 L106.47 362.92 L107.43 362.85 L108.39 362.77 L109.35 362.69 L110.30 362.62 L111.26 362.54 L112.22 362.47 L113.17 362.39 L114.13 362.32 L115.09 362.24 L116.05 362.17 L117.00 362.09 L117.96 362.02 L118.92 361.94 L119.87 361.87 L120.83 361.79 L121.79 361.72 L122.75 361.64 L123.70 361.57 L124.66 361.49 L125.62 361.42 L126.57 361.34 L127.53 361.27 L128.49 361.20 L129.45 361.12 L130.40 361.05 L131.36 360.97 L132.32 360.89 L133.28 360.82 L134.23 360.74 L135.19 360.66 L136.15 360.58 L137.10 360.50 L138.06 360.41 L139.02 360.32 L139.98 360.23 L140.93 360.13 L141.89 360.02 L142.85 359.91 L143.80 359.79 L144.76 359.65 L145.72 359.50 L146.68 359.34 L147.63 359.16 L148.59 358.95 L149.55 358.72 L150.50 358.47 L151.46 358.17 L152.42 357.84 L153.38 357.47 L154.33 357.04 L155.29 356.56 L156.25 356.02 L157.21 355.41 L158.16 354.73 L159.12 353.96 L160.08 353.11 L161.03 352.16 L161.99 351.11 L162.95 349.95 L163.91 348.67 L164.86 347.27 L165.82 345.75 L166.78 344.09 L167.73 342.30 L168.69 340.38 L169.65 338.31 L170.61 336.11 L171.56 333.78 L172.52 331.31 L173.48 328.72 L174.43 326.01 L175.39 323.19 L176.35 320.26 L177.31 317.24 L178.26 314.15 L179.22 310.99 L180.18 307.78 L181.13 304.54 L182.09 301.29 L183.05 298.04 L184.01 294.81 L184.96 291.61 L185.92 288.47 L186.88 285.40 L187.84 282.41 L188.79 279.52 L189.75 276.73 L190.71 274.06 L191.66 271.51 L192.62 269.10 L193.58 266.81 L194.54 264.67 L195.49 262.67 L196.45 260.82 L197.41 259.13 L198.36 257.62 L199.32 256.30 L200.28 255.17 L201.24 254.25 L202.19 253.56 L203.15 253.08 L204.11 252.82 L205.06 252.75 L206.02 252.84 L206.98 253.14 L207.94 253.65 L208.89 254.38 L209.85 255.33 L210.81 256.47 L211.76 257.80 L212.72 259.31 L213.68 260.98 L214.64 262.80 L215.59 264.77 L216.55 266.88 L217.51 269.12 L218.47 271.49 L219.42 273.99 L220.38 276.60 L221.34 279.32 L222.29 282.15 L223.25 285.07 L224.21 288.06 L225.17 291.12 L226.12 294.23 L227.08 297.37 L228.04 300.52 L228.99 303.67 L229.95 306.81 L230.91 309.90 L231.87 312.95 L232.82 315.93 L233.78 318.83 L234.74 321.65 L235.69 324.36 L236.65 326.95 L237.61 329.43 L238.57 331.79 L239.52 334.01 L240.48 336.11 L241.44 338.07 L242.39 339.89 L243.35 341.58 L244.31 343.15 L245.27 344.58 L246.22 345.89 L247.18 347.08 L248.14 348.16 L249.10 349.14 L250.05 350.01 L251.01 350.79 L251.97 351.48 L252.92 352.09 L253.88 352.63 L254.84 353.10 L255.80 353.51 L256.75 353.87 L257.71 354.18 L258.67 354.44 L259.62 354.67 L260.58 354.86 L261.54 355.02 L262.50 355.16 L263.45 355.27 L264.41 355.37 L265.37 355.45 L266.32 355.51 L267.28 355.57 L268.24 355.61 L269.20 355.64 L270.15 355.67 L271.11 355.69 L272.07 355.71 L273.03 355.72 L273.98 355.73 L274.94 355.73 L275.90 355.73 L276.85 355.73 L277.81 355.73 L278.77 355.73 L279.73 355.72 L280.68 355.72 L281.64 355.71 L282.60 355.70 L283.55 355.69 L284.51 355.68 L285.47 355.66 L286.43 355.65 L287.38 355.63 L288.34 355.62 L289.30 355.60 L290.25 355.59 L291.21 355.57 L292.17 355.55 L293.13 355.53 L294.08 355.51 L295.04 355.48 L296.00 355.46 L296.95 355.44 L297.91 355.41 L298.87 355.39 L299.83 355.36 L300.78 355.33 L301.74 355.30 L302.70 355.27 L303.66 355.24 L304.61 355.21 L305.57 355.18 L306.53 355.14 L307.48 355.11 L308.44 355.07 L309.40 355.04 L310.36 355.00 L311.31 354.96 L312.27 354.92 L313.23 354.88 L314.18 354.84 L315.14 354.80 L316.10 354.76 L317.06 354.71 L318.01 354.67 L318.97 354.62 L319.93 354.58 L320.88 354.53 L321.84 354.48 L322.80 354.44 L323.76 354.39 L324.71 354.34 L325.67 354.29 L326.63 354.24 L327.58 354.19 L328.54 354.13 L329.50 354.08 L330.46 354.03 L331.41 353.97 L332.37 353.92 L333.33 353.86 L334.29 353.81 L335.24 353.75 L336.20 353.69 L337.16 353.64 L338.11 353.58 L339.07 353.52 L340.03 353.46 L340.99 353.40 L341.94 353.34 L342.90 353.28" stroke="#ff00ff" stroke-width="2.5" fill="none" stroke-linejoin="round"/>
<text id="g6_2" font-family="Liberation Sans, sans-serif" font-size="15.70" fill="#ff00ff" letter-spacing="0.05em" word-spacing="0.2em" textLength="41.26" lengthAdjust="spacingAndGlyphs" text-rendering="geometricPrecision" x="234.71" y="306.71" xml:space="preserve">6 GHz</text>
<path d="M56.70 341.03 L57.66 340.90 L58.61 340.77 L59.57 340.63 L60.53 340.50 L61.49 340.37 L62.44 340.23 L63.40 340.10 L64.36 339.97 L65.31 339.83 L66.27 339.70 L67.23 339.56 L68.19 339.43 L69.14 339.30 L70.10 339.16 L71.06 339.03 L72.02 338.90 L72.97 338.76 L73.93 338.63 L74.89 338.49 L75.84 338.36 L76.80 338.23 L77.76 338.09 L78.72 337.96 L79.67 337.82 L80.63 337.69 L81.59 337.56 L82.54 337.42 L83.50 337.29 L84.46 337.15 L85.42 337.02 L86.37 336.88 L87.33 336.75 L88.29 336.61 L89.24 336.47 L90.20 336.34 L91.16 336.20 L92.12 336.06 L93.07 335.92 L94.03 335.78 L94.99 335.64 L95.94 335.50 L96.90 335.36 L97.86 335.22 L98.82 335.08 L99.77 334.93 L100.73 334.78 L101.69 334.63 L102.65 334.48 L103.60 334.33 L104.56 334.17 L105.52 334.01 L106.47 333.85 L107.43 333.68 L108.39 333.51 L109.35 333.34 L110.30 333.16 L111.26 332.97 L112.22 332.78 L113.17 332.58 L114.13 332.38 L115.09 332.16 L116.05 331.94 L117.00 331.71 L117.96 331.47 L118.92 331.22 L119.87 330.95 L120.83 330.67 L121.79 330.38 L122.75 330.08 L123.70 329.75 L124.66 329.41 L125.62 329.05 L126.57 328.68 L127.53 328.28 L128.49 327.86 L129.45 327.41 L130.40 326.94 L131.36 326.44 L132.32 325.92 L133.28 325.36 L134.23 324.78 L135.19 324.16 L136.15 323.51 L137.10 322.82 L138.06 322.10 L139.02 321.33 L139.98 320.53 L140.93 319.69 L141.89 318.81 L142.85 317.88 L143.80 316.91 L144.76 315.90 L145.72 314.84 L146.68 313.73 L147.63 312.58 L148.59 311.38 L149.55 310.13 L150.50 308.83 L151.46 307.49 L152.42 306.10 L153.38 304.67 L154.33 303.18 L155.29 301.66 L156.25 300.08 L157.21 298.47 L158.16 296.81 L159.12 295.12 L160.08 293.38 L161.03 291.62 L161.99 289.81 L162.95 287.98 L163.91 286.12 L164.86 284.23 L165.82 282.33 L166.78 280.40 L167.73 278.46 L168.69 276.51 L169.65 274.55 L170.61 272.58 L171.56 270.62 L172.52 268.66 L173.48 266.71 L174.43 264.77 L175.39 262.85 L176.35 260.94 L177.31 259.07 L178.26 257.22 L179.22 255.40 L180.18 253.63 L181.13 251.89 L182.09 250.20 L183.05 248.55 L184.01 246.96 L184.96 245.42 L185.92 243.94 L186.88 242.52 L187.84 241.17 L188.79 239.88 L189.75 238.66 L190.71 237.50 L191.66 236.42 L192.62 235.41 L193.58 234.48 L194.54 233.61 L195.49 232.83 L196.45 232.11 L197.41 231.47 L198.36 230.90 L199.32 230.40 L200.28 229.97 L201.24 229.60 L202.19 229.30 L203.15 229.06 L204.11 228.87 L205.06 228.72 L206.02 228.61 L206.98 228.56 L207.94 228.56 L208.89 228.65 L209.85 228.80 L210.81 229.04 L211.76 229.37 L212.72 229.78 L213.68 230.28 L214.64 230.86 L215.59 231.54 L216.55 232.30 L217.51 233.15 L218.47 234.09 L219.42 235.12 L220.38 236.22 L221.34 237.41 L222.29 238.68 L223.25 240.02 L224.21 241.43 L225.17 242.91 L226.12 244.45 L227.08 246.05 L228.04 247.70 L228.99 249.40 L229.95 251.15 L230.91 252.93 L231.87 254.75 L232.82 256.59 L233.78 258.46 L234.74 260.35 L235.69 262.24 L236.65 264.15 L237.61 266.05 L238.57 267.96 L239.52 269.85 L240.48 271.73 L241.44 273.59 L242.39 275.43 L243.35 277.25 L244.31 279.04 L245.27 280.79 L246.22 282.51 L247.18 284.19 L248.14 285.82 L249.10 287.42 L250.05 288.97 L251.01 290.47 L251.97 291.92 L252.92 293.33 L253.88 294.68 L254.84 295.98 L255.80 297.24 L256.75 298.44 L257.71 299.60 L258.67 300.70 L259.62 301.75 L260.58 302.76 L261.54 303.72 L262.50 304.64 L263.45 305.51 L264.41 306.34 L265.37 307.13 L266.32 307.87 L267.28 308.58 L268.24 309.26 L269.20 309.90 L270.15 310.50 L271.11 311.07 L272.07 311.61 L273.03 312.13 L273.98 312.61 L274.94 313.07 L275.90 313.50 L276.85 313.91 L277.81 314.30 L278.77 314.66 L279.73 315.00 L280.68 315.32 L281.64 315.62 L282.60 315.90 L283.55 316.17 L284.51 316.41 L285.47 316.64 L286.43 316.85 L287.38 317.04 L288.34 317.22 L289.30 317.38 L290.25 317.53 L291.21 317.67 L292.17 317.79 L293.13 317.89 L294.08 317.99 L295.04 318.07 L296.00 318.14 L296.95 318.19 L297.91 318.24 L298.87 318.28 L299.83 318.30 L300.78 318.32 L301.74 318.32 L302.70 318.32 L303.66 318.31 L304.61 318.30 L305.57 318.27 L306.53 318.24 L307.48 318.20 L308.44 318.15 L309.40 318.10 L310.36 318.05 L311.31 317.99 L312.27 317.92 L313.23 317.85 L314.18 317.77 L315.14 317.69 L316.10 317.61 L317.06 317.53 L318.01 317.44 L318.97 317.34 L319.93 317.25 L320.88 317.15 L321.84 317.05 L322.80 316.95 L323.76 316.84 L324.71 316.73 L325.67 316.62 L326.63 316.51 L327.58 316.40 L328.54 316.29 L329.50 316.17 L330.46 316.05 L331.41 315.94 L332.37 315.82 L333.33 315.70 L334.29 315.58 L335.24 315.45 L336.20 315.33 L337.16 315.21 L338.11 315.08 L339.07 314.96 L340.03 314.83 L340.99 314.71 L341.94 314.58 L342.90 314.45" stroke="#ff0000" stroke-width="2.5" fill="none" stroke-linejoin="round"/>
<text id="g31_2" font-family="Liberation Sans, sans-serif" font-size="15.70" fill="#ff0000" letter-spacing="0.05em" word-spacing="0.2em" textLength="53.46" lengthAdjust="spacingAndGlyphs" text-rendering="geometricPrecision" x="248.34" y="278.72" xml:space="preserve">3.1 GHz</text>
<path d="M163.6 87.0H254.2" stroke="#000" stroke-width="1.5"/>
<path d="M176.9 120.9H232.6" stroke="#000" stroke-width="1.5"/>
<path d="M188.9 124.7H223.9" stroke="#000" stroke-width="1.5"/>
<path d="M198.0 177.0H214.0" stroke="#000" stroke-width="1.5"/>
<path d="M167.4 277.9H242.5" stroke="#000" stroke-width="1.5"/>
<path d="M180.0 306.8H229.6" stroke="#000" stroke-width="1.5"/>
<path d="M189.8 316.1H222.5" stroke="#000" stroke-width="1.5"/>
<path d="M199.5 369.8H212.8" stroke="#000" stroke-width="1.5"/>
<path d="M124.27 36.90 L125.21 37.66 L126.15 38.42 L127.07 39.19 L127.98 39.95 L128.89 40.71 L129.79 41.47 L130.68 42.23 L131.56 42.99 L132.44 43.76 L133.30 44.52 L134.16 45.28 L135.01 46.04 L135.85 46.80 L136.68 47.57 L137.51 48.33 L138.33 49.09 L139.14 49.85 L139.94 50.61 L140.73 51.37 L141.52 52.14 L142.30 52.90 L143.07 53.66 L143.83 54.42 L144.59 55.18 L145.33 55.95 L146.07 56.71 L146.81 57.47 L147.53 58.23 L148.25 58.99 L148.96 59.75 L149.66 60.52 L150.36 61.28 L151.05 62.04 L151.73 62.80 L152.40 63.56 L153.07 64.33 L153.73 65.09 L154.38 65.85 L155.02 66.61 L155.66 67.37 L156.29 68.13 L156.92 68.90 L157.54 69.66 L158.15 70.42 L158.75 71.18 L159.35 71.94 L159.94 72.71 L160.52 73.47 L161.09 74.23 L161.66 74.99 L162.23 75.75 L162.78 76.51 L163.33 77.28 L163.88 78.04 L164.41 78.80 L164.94 79.56 L165.47 80.32 L165.98 81.08 L166.50 81.85 L167.00 82.61 L167.50 83.37 L167.99 84.13 L168.48 84.89 L168.96 85.66 L169.43 86.42 L169.90 87.18 L170.36 87.94 L170.81 88.70 L171.26 89.46 L171.71 90.23 L172.15 90.99 L172.58 91.75 L173.00 92.51 L173.42 93.27 L173.84 94.04 L174.25 94.80 L174.65 95.56 L175.04 96.32 L175.44 97.08 L175.82 97.84 L176.20 98.61 L176.58 99.37 L176.95 100.13 L177.31 100.89 L177.67 101.65 L178.02 102.42 L178.37 103.18 L178.71 103.94 L179.05 104.70 L179.38 105.46 L179.71 106.22 L180.03 106.99 L180.34 107.75 L180.66 108.51 L180.96 109.27 L181.26 110.03 L181.56 110.80 L181.85 111.56 L182.14 112.32 L182.42 113.08 L182.69 113.84 L182.97 114.60 L183.23 115.37 L183.50 116.13 L183.75 116.89 L184.01 117.65 L184.25 118.41 L184.50 119.18 L184.74 119.94 L184.97 120.70 L185.20 121.46 L185.43 122.22 L185.65 122.98 L185.87 123.75 L186.08 124.51 L186.29 125.27 L186.49 126.03 L186.69 126.79 L186.89 127.56 L187.08 128.32 L187.27 129.08 L187.45 129.84 L187.63 130.60 L187.80 131.36 L187.97 132.13 L188.14 132.89 L188.31 133.65 L188.47 134.41 L188.62 135.17 L188.77 135.94 L188.92 136.70 L189.07 137.46 L189.21 138.22 L189.34 138.98 L189.48 139.74 L189.61 140.51 L189.73 141.27 L189.86 142.03 L189.98 142.79 L190.09 143.55 L190.21 144.32 L190.32 145.08 L190.42 145.84 L190.53 146.60 L190.62 147.36 L190.72 148.12 L190.81 148.89 L190.90 149.65 L190.99 150.41 L191.08 151.17 L191.16 151.93 L191.23 152.69 L191.31 153.46 L191.38 154.22 L191.45 154.98 L191.52 155.74 L191.58 156.50 L191.64 157.27 L191.70 158.03 L191.76 158.79 L191.81 159.55 L191.86 160.31 L191.91 161.07 L191.95 161.84 L191.99 162.60 L192.03 163.36 L192.07 164.12 L192.11 164.88 L192.14 165.65 L192.17 166.41 L192.20 167.17 L192.22 167.93 L192.25 168.69 L192.27 169.45 L192.29 170.22 L192.31 170.98 L192.32 171.74 L192.33 172.50 L192.35 173.26 L192.36 174.03 L192.36 174.79 L192.37 175.55 L192.37 176.31 L192.37 177.07 L192.37 177.83 L192.37 178.60 L192.37 179.36 L192.36 180.12 L192.36 180.88 L192.35 181.64 L192.34 182.41 L192.33 183.17 L192.31 183.93 L192.30 184.69 L192.28 185.45 L192.26 186.21 L192.25 186.98 L192.23 187.74 L192.20 188.50" stroke="#000" stroke-width="2.6" fill="none" stroke-dasharray="9.25 8.5" stroke-dashoffset="0.5"/>
<path d="M324.15 32.80 L322.51 33.59 L320.90 34.37 L319.30 35.16 L317.72 35.94 L316.16 36.73 L314.62 37.51 L313.10 38.30 L311.60 39.08 L310.11 39.87 L308.64 40.65 L307.20 41.44 L305.76 42.23 L304.35 43.01 L302.95 43.80 L301.57 44.58 L300.21 45.37 L298.87 46.15 L297.54 46.94 L296.23 47.72 L294.94 48.51 L293.66 49.29 L292.40 50.08 L291.15 50.86 L289.92 51.65 L288.71 52.44 L287.51 53.22 L286.33 54.01 L285.16 54.79 L284.01 55.58 L282.87 56.36 L281.75 57.15 L280.65 57.93 L279.55 58.72 L278.48 59.50 L277.41 60.29 L276.36 61.08 L275.33 61.86 L274.31 62.65 L273.30 63.43 L272.31 64.22 L271.33 65.00 L270.36 65.79 L269.41 66.57 L268.47 67.36 L267.54 68.14 L266.63 68.93 L265.72 69.72 L264.84 70.50 L263.96 71.29 L263.09 72.07 L262.24 72.86 L261.40 73.64 L260.57 74.43 L259.75 75.21 L258.94 76.00 L258.15 76.78 L257.36 77.57 L256.59 78.35 L255.83 79.14 L255.08 79.93 L254.33 80.71 L253.60 81.50 L252.88 82.28 L252.17 83.07 L251.47 83.85 L250.78 84.64 L250.10 85.42 L249.42 86.21 L248.76 86.99 L248.11 87.78 L247.46 88.57 L246.83 89.35 L246.20 90.14 L245.58 90.92 L244.97 91.71 L244.37 92.49 L243.78 93.28 L243.19 94.06 L242.61 94.85 L242.04 95.63 L241.48 96.42 L240.92 97.21 L240.37 97.99 L239.83 98.78 L239.30 99.56 L238.77 100.35 L238.25 101.13 L237.74 101.92 L237.23 102.70 L236.73 103.49 L236.23 104.27 L235.74 105.06 L235.26 105.84 L234.78 106.63 L234.30 107.42 L233.84 108.20 L233.38 108.99 L232.92 109.77 L232.47 110.56 L232.03 111.34 L231.59 112.13 L231.16 112.91 L230.73 113.70 L230.31 114.48 L229.90 115.27 L229.49 116.06 L229.09 116.84 L228.69 117.63 L228.30 118.41 L227.91 119.20 L227.53 119.98 L227.16 120.77 L226.79 121.55 L226.43 122.34 L226.07 123.12 L225.71 123.91 L225.37 124.69 L225.03 125.48 L224.69 126.27 L224.36 127.05 L224.04 127.84 L223.72 128.62 L223.40 129.41 L223.09 130.19 L222.79 130.98 L222.49 131.76 L222.20 132.55 L221.92 133.33 L221.63 134.12 L221.36 134.91 L221.09 135.69 L220.82 136.48 L220.56 137.26 L220.31 138.05 L220.06 138.83 L219.82 139.62 L219.58 140.40 L219.34 141.19 L219.12 141.97 L218.89 142.76 L218.68 143.55 L218.46 144.33 L218.26 145.12 L218.05 145.90 L217.86 146.69 L217.66 147.47 L217.48 148.26 L217.30 149.04 L217.12 149.83 L216.95 150.61 L216.78 151.40 L216.62 152.18 L216.47 152.97 L216.31 153.76 L216.17 154.54 L216.03 155.33 L215.89 156.11 L215.76 156.90 L215.63 157.68 L215.51 158.47 L215.40 159.25 L215.28 160.04 L215.18 160.82 L215.08 161.61 L214.98 162.40 L214.89 163.18 L214.80 163.97 L214.72 164.75 L214.64 165.54 L214.57 166.32 L214.50 167.11 L214.44 167.89 L214.38 168.68 L214.33 169.46 L214.28 170.25 L214.23 171.04 L214.19 171.82 L214.16 172.61 L214.13 173.39 L214.10 174.18 L214.08 174.96 L214.07 175.75 L214.06 176.53 L214.05 177.32 L214.05 178.10 L214.05 178.89 L214.06 179.67 L214.07 180.46 L214.08 181.25 L214.10 182.03 L214.13 182.82 L214.16 183.60 L214.19 184.39 L214.23 185.17 L214.27 185.96 L214.32 186.74 L214.37 187.53 L214.43 188.31 L214.49 189.10" stroke="#000" stroke-width="2.6" fill="none" stroke-dasharray="9.25 8.5" stroke-dashoffset="1.2"/>
<rect x="56.7" y="29.5" width="286.20" height="157.70" fill="none" stroke="#111" stroke-width="1.4"/>
<path d="M82.72 29.50v4M82.72 187.20v-4M108.74 29.50v4M108.74 187.20v-4M134.75 29.50v4M134.75 187.20v-4M160.77 29.50v4M160.77 187.20v-4M186.79 29.50v7M186.79 187.20v-7M212.81 29.50v4M212.81 187.20v-4M238.83 29.50v4M238.83 187.20v-4M264.85 29.50v4M264.85 187.20v-4M290.86 29.50v4M290.86 187.20v-4M316.88 29.50v7M316.88 187.20v-7" stroke="#111" stroke-width="1.3" fill="none"/>
<path d="M56.70 177.34h4M342.90 177.34h-4M56.70 167.49h4M342.90 167.49h-4M56.70 157.63h4M342.90 157.63h-4M56.70 147.77h4M342.90 147.77h-4M56.70 137.92h7M342.90 137.92h-7M56.70 128.06h4M342.90 128.06h-4M56.70 118.21h4M342.90 118.21h-4M56.70 108.35h4M342.90 108.35h-4M56.70 98.49h4M342.90 98.49h-4M56.70 88.64h7M342.90 88.64h-7M56.70 78.78h4M342.90 78.78h-4M56.70 68.92h4M342.90 68.92h-4M56.70 59.07h4M342.90 59.07h-4M56.70 49.21h4M342.90 49.21h-4M56.70 39.36h7M342.90 39.36h-7" stroke="#111" stroke-width="1.3" fill="none"/>
<rect x="56.7" y="222.0" width="286.20" height="157.90" fill="none" stroke="#111" stroke-width="1.4"/>
<path d="M82.72 222.00v4M82.72 379.90v-4M108.74 222.00v4M108.74 379.90v-4M134.75 222.00v4M134.75 379.90v-4M160.77 222.00v4M160.77 379.90v-4M186.79 222.00v7M186.79 379.90v-7M212.81 222.00v4M212.81 379.90v-4M238.83 222.00v4M238.83 379.90v-4M264.85 222.00v4M264.85 379.90v-4M290.86 222.00v4M290.86 379.90v-4M316.88 222.00v7M316.88 379.90v-7" stroke="#111" stroke-width="1.3" fill="none"/>
<path d="M56.70 370.03h4M342.90 370.03h-4M56.70 360.16h4M342.90 360.16h-4M56.70 350.29h4M342.90 350.29h-4M56.70 340.42h4M342.90 340.42h-4M56.70 330.56h7M342.90 330.56h-7M56.70 320.69h4M342.90 320.69h-4M56.70 310.82h4M342.90 310.82h-4M56.70 300.95h4M342.90 300.95h-4M56.70 291.08h4M342.90 291.08h-4M56.70 281.21h7M342.90 281.21h-7M56.70 271.34h4M342.90 271.34h-4M56.70 261.48h4M342.90 261.48h-4M56.70 251.61h4M342.90 251.61h-4M56.70 241.74h4M342.90 241.74h-4M56.70 231.87h7M342.90 231.87h-7" stroke="#111" stroke-width="1.3" fill="none"/>
<ellipse cx="478.6" cy="58.6" rx="3.5" ry="3.75" fill="#ff0000"/>
<ellipse cx="525.4" cy="89.5" rx="3.5" ry="3.75" fill="#ff0000"/>
<ellipse cx="565.1" cy="93.6" rx="3.5" ry="3.75" fill="#ff0000"/>
<ellipse cx="654.8" cy="182.5" rx="3.5" ry="3.75" fill="#ff0000"/>
<ellipse cx="478.6" cy="60.2" rx="3.5" ry="3.75" fill="#0000ff"/>
<ellipse cx="525.4" cy="81.8" rx="3.5" ry="3.75" fill="#0000ff"/>
<ellipse cx="565.1" cy="96.7" rx="3.5" ry="3.75" fill="#0000ff"/>
<ellipse cx="654.8" cy="184.9" rx="3.5" ry="3.75" fill="#0000ff"/>
<path d="M446.1 44.5L596.5 114.8" stroke="#2d62c4" stroke-width="1.9" fill="none" stroke-dasharray="6.2 5.65" stroke-dashoffset="0"/>
<path d="M596.5 114.8L670.8 197.4" stroke="#2d62c4" stroke-width="1.9" fill="none" stroke-dasharray="6.2 5.65" stroke-dashoffset="2.35"/>
<ellipse cx="478.9" cy="252.1" rx="3.5" ry="3.75" fill="#ff0000"/>
<ellipse cx="525.4" cy="308.3" rx="3.5" ry="3.75" fill="#ff0000"/>
<ellipse cx="565.0" cy="341.9" rx="3.5" ry="3.75" fill="#ff0000"/>
<ellipse cx="654.8" cy="369.5" rx="3.5" ry="3.75" fill="#ff0000"/>
<ellipse cx="478.9" cy="279.0" rx="3.5" ry="3.75" fill="#0000ff"/>
<ellipse cx="525.4" cy="317.8" rx="3.5" ry="3.75" fill="#0000ff"/>
<ellipse cx="565.0" cy="344.2" rx="3.5" ry="3.75" fill="#0000ff"/>
<ellipse cx="654.8" cy="373.7" rx="3.5" ry="3.75" fill="#0000ff"/>
<path d="M471.50 242.88 L472.43 244.97 L473.36 247.02 L474.29 249.02 L475.22 250.99 L476.15 252.91 L477.08 254.80 L478.01 256.64 L478.94 258.45 L479.87 260.23 L480.80 261.97 L481.73 263.67 L482.66 265.34 L483.59 266.98 L484.52 268.59 L485.45 270.17 L486.38 271.72 L487.31 273.24 L488.24 274.73 L489.17 276.20 L490.10 277.64 L491.03 279.05 L491.96 280.44 L492.89 281.81 L493.82 283.15 L494.75 284.46 L495.68 285.76 L496.61 287.03 L497.54 288.28 L498.47 289.51 L499.40 290.72 L500.33 291.91 L501.26 293.08 L502.19 294.24 L503.12 295.37 L504.05 296.48 L504.98 297.58 L505.91 298.66 L506.84 299.72 L507.77 300.77 L508.70 301.80 L509.63 302.82 L510.56 303.81 L511.49 304.80 L512.42 305.77 L513.35 306.72 L514.28 307.66 L515.21 308.59 L516.14 309.50 L517.07 310.41 L518.00 311.29 L518.93 312.17 L519.86 313.03 L520.79 313.88 L521.72 314.72 L522.65 315.54 L523.58 316.36 L524.51 317.16 L525.44 317.96 L526.37 318.74 L527.30 319.51 L528.23 320.27 L529.16 321.02 L530.09 321.76 L531.03 322.50 L531.96 323.22 L532.89 323.93 L533.82 324.63 L534.75 325.33 L535.68 326.01 L536.61 326.69 L537.54 327.36 L538.47 328.02 L539.40 328.67 L540.33 329.31 L541.26 329.95 L542.19 330.58 L543.12 331.20 L544.05 331.81 L544.98 332.41 L545.91 333.01 L546.84 333.60 L547.77 334.19 L548.70 334.76 L549.63 335.34 L550.56 335.90 L551.49 336.46 L552.42 337.01 L553.35 337.55 L554.28 338.09 L555.21 338.62 L556.14 339.15 L557.07 339.67 L558.00 340.18 L558.93 340.69 L559.86 341.19 L560.79 341.69 L561.72 342.18 L562.65 342.67 L563.58 343.15 L564.51 343.63 L565.44 344.10 L566.37 344.57 L567.30 345.03 L568.23 345.48 L569.16 345.93 L570.09 346.38 L571.02 346.82 L571.95 347.26 L572.88 347.69 L573.81 348.12 L574.74 348.55 L575.67 348.97 L576.60 349.38 L577.53 349.79 L578.46 350.20 L579.39 350.60 L580.32 351.00 L581.25 351.40 L582.18 351.79 L583.11 352.18 L584.04 352.56 L584.97 352.94 L585.90 353.32 L586.83 353.69 L587.76 354.06 L588.69 354.43 L589.62 354.79 L590.55 355.15 L591.48 355.50 L592.41 355.85 L593.34 356.20 L594.27 356.55 L595.20 356.89 L596.13 357.23 L597.06 357.57 L597.99 357.90 L598.92 358.23 L599.85 358.56 L600.78 358.88 L601.71 359.20 L602.64 359.52 L603.57 359.84 L604.50 360.15 L605.43 360.46 L606.36 360.77 L607.29 361.07 L608.22 361.37 L609.15 361.67 L610.08 361.97 L611.01 362.26 L611.94 362.55 L612.87 362.84 L613.80 363.13 L614.73 363.42 L615.66 363.70 L616.59 363.98 L617.52 364.25 L618.45 364.53 L619.38 364.80 L620.31 365.07 L621.24 365.34 L622.17 365.60 L623.10 365.87 L624.03 366.13 L624.96 366.39 L625.89 366.65 L626.83 366.90 L627.76 367.16 L628.69 367.41 L629.62 367.66 L630.55 367.90 L631.48 368.15 L632.41 368.39 L633.34 368.63 L634.27 368.87 L635.20 369.11 L636.13 369.35 L637.06 369.58 L637.99 369.81 L638.92 370.04 L639.85 370.27 L640.78 370.50 L641.71 370.72 L642.64 370.95 L643.57 371.17 L644.50 371.39 L645.43 371.61 L646.36 371.82 L647.29 372.04 L648.22 372.25 L649.15 372.46 L650.08 372.67 L651.01 372.88 L651.94 373.09 L652.87 373.30 L653.80 373.50 L654.73 373.70 L655.66 373.90 L656.59 374.10" stroke="#000" stroke-width="1.9" fill="none"/>
<rect x="428.5" y="39.6" width="323.30" height="159.00" fill="none" stroke="#111" stroke-width="1.4"/>
<path d="M446.46 39.60v4M464.42 39.60v4M482.38 39.60v4M500.34 39.60v4M518.31 39.60v7M536.27 39.60v4M554.23 39.60v4M572.19 39.60v4M590.15 39.60v4M608.11 39.60v7M626.07 39.60v4M644.03 39.60v4M661.99 39.60v4M679.96 39.60v4M697.92 39.60v7M715.88 39.60v4M733.84 39.60v4" stroke="#111" stroke-width="1.3" fill="none"/>
<path d="M444.67 198.60v-4M460.83 198.60v-4M477.00 198.60v-4M493.16 198.60v-4M509.32 198.60v-7M525.49 198.60v-4M541.65 198.60v-4M557.82 198.60v-4M573.99 198.60v-4M590.15 198.60v-7M606.31 198.60v-4M622.48 198.60v-4M638.64 198.60v-4M654.81 198.60v-4M670.97 198.60v-7M687.14 198.60v-4M703.30 198.60v-4M719.47 198.60v-4M735.63 198.60v-4" stroke="#111" stroke-width="1.3" fill="none"/>
<path d="M428.50 189.51h4M751.80 189.51h-4M428.50 180.43h4M751.80 180.43h-4M428.50 171.34h4M751.80 171.34h-4M428.50 162.26h4M751.80 162.26h-4M428.50 153.17h7M751.80 153.17h-7M428.50 144.09h4M751.80 144.09h-4M428.50 135.00h4M751.80 135.00h-4M428.50 125.91h4M751.80 125.91h-4M428.50 116.83h4M751.80 116.83h-4M428.50 107.74h7M751.80 107.74h-7M428.50 98.66h4M751.80 98.66h-4M428.50 89.57h4M751.80 89.57h-4M428.50 80.49h4M751.80 80.49h-4M428.50 71.40h4M751.80 71.40h-4M428.50 62.31h7M751.80 62.31h-7M428.50 53.23h4M751.80 53.23h-4M428.50 44.14h4M751.80 44.14h-4" stroke="#111" stroke-width="1.3" fill="none"/>
<rect x="428.5" y="234.0" width="323.30" height="159.10" fill="none" stroke="#111" stroke-width="1.4"/>
<path d="M446.46 234.00v4M464.42 234.00v4M482.38 234.00v4M500.34 234.00v4M518.31 234.00v7M536.27 234.00v4M554.23 234.00v4M572.19 234.00v4M590.15 234.00v4M608.11 234.00v7M626.07 234.00v4M644.03 234.00v4M661.99 234.00v4M679.96 234.00v4M697.92 234.00v7M715.88 234.00v4M733.84 234.00v4" stroke="#111" stroke-width="1.3" fill="none"/>
<path d="M444.67 393.10v-4M460.83 393.10v-4M477.00 393.10v-4M493.16 393.10v-4M509.32 393.10v-7M525.49 393.10v-4M541.65 393.10v-4M557.82 393.10v-4M573.99 393.10v-4M590.15 393.10v-7M606.31 393.10v-4M622.48 393.10v-4M638.64 393.10v-4M654.81 393.10v-4M670.97 393.10v-7M687.14 393.10v-4M703.30 393.10v-4M719.47 393.10v-4M735.63 393.10v-4" stroke="#111" stroke-width="1.3" fill="none"/>
<path d="M428.50 385.15h4M751.80 385.15h-4M428.50 377.19h4M751.80 377.19h-4M428.50 369.24h4M751.80 369.24h-4M428.50 361.28h4M751.80 361.28h-4M428.50 353.33h7M751.80 353.33h-7M428.50 345.37h4M751.80 345.37h-4M428.50 337.42h4M751.80 337.42h-4M428.50 329.46h4M751.80 329.46h-4M428.50 321.50h4M751.80 321.50h-4M428.50 313.55h7M751.80 313.55h-7M428.50 305.60h4M751.80 305.60h-4M428.50 297.64h4M751.80 297.64h-4M428.50 289.69h4M751.80 289.69h-4M428.50 281.73h4M751.80 281.73h-4M428.50 273.77h7M751.80 273.77h-7M428.50 265.82h4M751.80 265.82h-4M428.50 257.87h4M751.80 257.87h-4M428.50 249.91h4M751.80 249.91h-4M428.50 241.95h4M751.80 241.95h-4" stroke="#111" stroke-width="1.3" fill="none"/>
<text id="a_lbl" font-family="Liberation Sans, sans-serif" font-size="24.79" fill="#000" textLength="11.45" lengthAdjust="spacingAndGlyphs" text-rendering="geometricPrecision" x="9.67" y="32.01" xml:space="preserve">a</text>
<text id="a_par" font-family="Liberation Sans, sans-serif" font-size="24.50" fill="#000" textLength="8.07" lengthAdjust="spacingAndGlyphs" text-rendering="geometricPrecision" x="23.16" y="30.69" xml:space="preserve">)</text>
<text id="title" font-family="Liberation Sans, sans-serif" font-size="15.70" fill="#000" letter-spacing="0.05em" word-spacing="0.2em" textLength="161.84" lengthAdjust="spacingAndGlyphs" text-rendering="geometricPrecision" x="122.41" y="21.37" xml:space="preserve">AR 11479: 00:34:15 UT</text>
<text id="ya1_300" font-family="Liberation Sans, sans-serif" font-size="15.70" fill="#000" letter-spacing="0.05em" word-spacing="0.2em" textLength="25.84" lengthAdjust="spacingAndGlyphs" text-rendering="geometricPrecision" x="21.78" y="44.12" xml:space="preserve">300</text>
<text id="ya1_200" font-family="Liberation Sans, sans-serif" font-size="15.70" fill="#000" letter-spacing="0.05em" word-spacing="0.2em" textLength="26.96" lengthAdjust="spacingAndGlyphs" text-rendering="geometricPrecision" x="20.64" y="93.83" xml:space="preserve">200</text>
<text id="ya1_100" font-family="Liberation Sans, sans-serif" font-size="15.70" fill="#000" letter-spacing="0.05em" word-spacing="0.2em" textLength="26.87" lengthAdjust="spacingAndGlyphs" text-rendering="geometricPrecision" x="20.86" y="143.53" xml:space="preserve">100</text>
<text id="ya1_0" font-family="Liberation Sans, sans-serif" font-size="15.70" fill="#000" textLength="8.25" lengthAdjust="spacingAndGlyphs" text-rendering="geometricPrecision" x="38.63" y="192.39" xml:space="preserve">0</text>
<text id="ya2_300" font-family="Liberation Sans, sans-serif" font-size="15.70" fill="#000" letter-spacing="0.05em" word-spacing="0.2em" textLength="25.84" lengthAdjust="spacingAndGlyphs" text-rendering="geometricPrecision" x="21.78" y="237.76" xml:space="preserve">300</text>
<text id="ya2_200" font-family="Liberation Sans, sans-serif" font-size="15.70" fill="#000" letter-spacing="0.05em" word-spacing="0.2em" textLength="26.96" lengthAdjust="spacingAndGlyphs" text-rendering="geometricPrecision" x="20.64" y="286.66" xml:space="preserve">200</text>
<text id="ya2_100" font-family="Liberation Sans, sans-serif" font-size="15.70" fill="#000" letter-spacing="0.05em" word-spacing="0.2em" textLength="26.87" lengthAdjust="spacingAndGlyphs" text-rendering="geometricPrecision" x="20.86" y="335.88" xml:space="preserve">100</text>
<text id="ya2_0" font-family="Liberation Sans, sans-serif" font-size="15.70" fill="#000" textLength="8.25" lengthAdjust="spacingAndGlyphs" text-rendering="geometricPrecision" x="38.63" y="385.21" xml:space="preserve">0</text>
<text id="lcp_a" font-family="Liberation Sans, sans-serif" font-size="21.97" fill="#000" letter-spacing="0.05em" word-spacing="0.2em" textLength="35.18" lengthAdjust="spacingAndGlyphs" text-rendering="geometricPrecision" x="72.66" y="62.90" xml:space="preserve">LCP</text>
<text id="rcp_a" font-family="Liberation Sans, sans-serif" font-size="21.97" fill="#000" letter-spacing="0.05em" word-spacing="0.2em" textLength="37.00" lengthAdjust="spacingAndGlyphs" text-rendering="geometricPrecision" x="71.48" y="255.26" xml:space="preserve">RCP</text>
<text id="xa_50" font-family="Liberation Sans, sans-serif" font-size="15.70" fill="#000" letter-spacing="0.05em" word-spacing="0.2em" textLength="18.22" lengthAdjust="spacingAndGlyphs" text-rendering="geometricPrecision" x="47.42" y="400.44" xml:space="preserve">50</text>
<text id="xa_0" font-family="Liberation Sans, sans-serif" font-size="15.70" fill="#000" textLength="8.38" lengthAdjust="spacingAndGlyphs" text-rendering="geometricPrecision" x="182.06" y="400.66" xml:space="preserve">0</text>
<text id="xa_m50" font-family="Liberation Sans, sans-serif" font-size="15.70" fill="#000" letter-spacing="0.05em" word-spacing="0.2em" textLength="29.45" lengthAdjust="spacingAndGlyphs" text-rendering="geometricPrecision" x="302.87" y="400.20" xml:space="preserve">−50</text>
<text id="east" font-family="Liberation Sans, sans-serif" font-size="15.70" fill="#000" letter-spacing="0.05em" word-spacing="0.2em" textLength="29.47" lengthAdjust="spacingAndGlyphs" text-rendering="geometricPrecision" x="55.96" y="421.30" xml:space="preserve">East</text>
<text id="arcsec" font-family="Liberation Sans, sans-serif" font-size="15.70" fill="#000" letter-spacing="0.05em" word-spacing="0.2em" textLength="57.43" lengthAdjust="spacingAndGlyphs" text-rendering="geometricPrecision" x="171.14" y="420.64" xml:space="preserve">(arcsec)</text>
<text id="west" font-family="Liberation Sans, sans-serif" font-size="15.70" fill="#000" letter-spacing="0.05em" word-spacing="0.2em" textLength="30.08" lengthAdjust="spacingAndGlyphs" text-rendering="geometricPrecision" x="313.38" y="420.98" xml:space="preserve">West</text>
<text id="ylab_a" font-family="Liberation Sans, sans-serif" font-size="15.70" fill="#000" letter-spacing="0.05em" word-spacing="0.2em" textLength="85.10" lengthAdjust="spacingAndGlyphs" text-rendering="geometricPrecision" x="0" y="0" transform="translate(15.11 258.95) rotate(-90)" xml:space="preserve">T<tspan dy="5.65" font-size="10.68">b</tspan><tspan dy="-5.65"> (10</tspan><tspan dy="-7.22" font-size="12.25">3</tspan><tspan dy="7.22"> K)</tspan></text>
<text id="b_lbl" font-family="Liberation Sans, sans-serif" font-size="24.79" fill="#000" textLength="13.10" lengthAdjust="spacingAndGlyphs" text-rendering="geometricPrecision" x="368.37" y="38.20" xml:space="preserve">b</text>
<text id="b_par" font-family="Liberation Sans, sans-serif" font-size="24.50" fill="#000" textLength="6.31" lengthAdjust="spacingAndGlyphs" text-rendering="geometricPrecision" x="383.26" y="37.69" xml:space="preserve">)</text>
<text id="magf" font-family="Liberation Sans, sans-serif" font-size="16.08" fill="#000" textLength="135.01" lengthAdjust="spacingAndGlyphs" text-rendering="geometricPrecision" x="517.15" y="12.58" xml:space="preserve">Magnetic Field (G)</text>
<text id="mt_0" font-family="Liberation Sans, sans-serif" font-size="14.38" fill="#000" textLength="8.86" lengthAdjust="spacingAndGlyphs" text-rendering="geometricPrecision" x="423.73" y="28.98" xml:space="preserve">0</text>
<text id="mt_500" font-family="Liberation Sans, sans-serif" font-size="14.38" fill="#000" textLength="24.94" lengthAdjust="spacingAndGlyphs" text-rendering="geometricPrecision" x="505.30" y="28.66" xml:space="preserve">500</text>
<text id="mt_1000" font-family="Liberation Sans, sans-serif" font-size="14.38" fill="#000" textLength="32.33" lengthAdjust="spacingAndGlyphs" text-rendering="geometricPrecision" x="591.47" y="28.60" xml:space="preserve">1000</text>
<text id="mt_1500" font-family="Liberation Sans, sans-serif" font-size="14.38" fill="#000" textLength="33.47" lengthAdjust="spacingAndGlyphs" text-rendering="geometricPrecision" x="681.37" y="28.78" xml:space="preserve">1500</text>
<text id="yb1_300" font-family="Liberation Sans, sans-serif" font-size="15.70" fill="#000" letter-spacing="0.05em" word-spacing="0.2em" textLength="26.03" lengthAdjust="spacingAndGlyphs" text-rendering="geometricPrecision" x="393.81" y="67.81" xml:space="preserve">300</text>
<text id="yb1_200" font-family="Liberation Sans, sans-serif" font-size="15.70" fill="#000" letter-spacing="0.05em" word-spacing="0.2em" textLength="26.02" lengthAdjust="spacingAndGlyphs" text-rendering="geometricPrecision" x="393.70" y="112.78" xml:space="preserve">200</text>
<text id="yb1_100" font-family="Liberation Sans, sans-serif" font-size="15.70" fill="#000" letter-spacing="0.05em" word-spacing="0.2em" textLength="25.73" lengthAdjust="spacingAndGlyphs" text-rendering="geometricPrecision" x="394.10" y="157.91" xml:space="preserve">100</text>
<text id="yb1_0" font-family="Liberation Sans, sans-serif" font-size="15.70" fill="#000" textLength="8.51" lengthAdjust="spacingAndGlyphs" text-rendering="geometricPrecision" x="410.67" y="203.93" xml:space="preserve">0</text>
<text id="yb2_40" font-family="Liberation Sans, sans-serif" font-size="15.70" fill="#000" letter-spacing="0.05em" word-spacing="0.2em" textLength="17.35" lengthAdjust="spacingAndGlyphs" text-rendering="geometricPrecision" x="402.12" y="239.58" xml:space="preserve">40</text>
<text id="yb2_30" font-family="Liberation Sans, sans-serif" font-size="15.70" fill="#000" letter-spacing="0.05em" word-spacing="0.2em" textLength="17.60" lengthAdjust="spacingAndGlyphs" text-rendering="geometricPrecision" x="402.03" y="278.65" xml:space="preserve">30</text>
<text id="yb2_20" font-family="Liberation Sans, sans-serif" font-size="15.70" fill="#000" letter-spacing="0.05em" word-spacing="0.2em" textLength="17.08" lengthAdjust="spacingAndGlyphs" text-rendering="geometricPrecision" x="402.31" y="318.57" xml:space="preserve">20</text>
<text id="yb2_10" font-family="Liberation Sans, sans-serif" font-size="15.70" fill="#000" letter-spacing="0.05em" word-spacing="0.2em" textLength="16.99" lengthAdjust="spacingAndGlyphs" text-rendering="geometricPrecision" x="402.55" y="359.12" xml:space="preserve">10</text>
<text id="yb2_0" font-family="Liberation Sans, sans-serif" font-size="15.70" fill="#000" textLength="8.26" lengthAdjust="spacingAndGlyphs" text-rendering="geometricPrecision" x="410.62" y="398.19" xml:space="preserve">0</text>
<text id="lcp_b" font-family="Liberation Sans, sans-serif" font-size="18.61" fill="#ff0000" letter-spacing="0.05em" word-spacing="0.2em" textLength="33.02" lengthAdjust="spacingAndGlyphs" text-rendering="geometricPrecision" x="671.02" y="69.40" xml:space="preserve">LCP</text>
<text id="rcp_b" font-family="Liberation Sans, sans-serif" font-size="18.61" fill="#0000ff" letter-spacing="0.05em" word-spacing="0.2em" textLength="34.45" lengthAdjust="spacingAndGlyphs" text-rendering="geometricPrecision" x="670.25" y="99.46" xml:space="preserve">RCP</text>
<text id="ylab_b" font-family="Liberation Sans, sans-serif" font-size="15.70" fill="#000" letter-spacing="0.05em" word-spacing="0.2em" textLength="84.59" lengthAdjust="spacingAndGlyphs" text-rendering="geometricPrecision" x="0" y="0" transform="translate(386.66 157.19) rotate(-90)" xml:space="preserve">T<tspan dy="5.65" font-size="10.68">b</tspan><tspan dy="-5.65"> (10</tspan><tspan dy="-7.22" font-size="12.25">3</tspan><tspan dy="7.22"> K)</tspan></text>
<text id="size" font-family="Liberation Sans, sans-serif" font-size="15.70" fill="#000" letter-spacing="0.05em" word-spacing="0.2em" textLength="101.47" lengthAdjust="spacingAndGlyphs" text-rendering="geometricPrecision" x="0" y="0" transform="translate(399.11 361.97) rotate(-90)" xml:space="preserve">size (arcsec)</text>
<text id="xb_0" font-family="Liberation Sans, sans-serif" font-size="15.70" fill="#000" textLength="8.42" lengthAdjust="spacingAndGlyphs" text-rendering="geometricPrecision" x="424.33" y="411.65" xml:space="preserve">0</text>
<text id="xb_5" font-family="Liberation Sans, sans-serif" font-size="15.70" fill="#000" textLength="9.87" lengthAdjust="spacingAndGlyphs" text-rendering="geometricPrecision" x="504.28" y="411.79" xml:space="preserve">5</text>
<text id="xb_10" font-family="Liberation Sans, sans-serif" font-size="15.70" fill="#000" letter-spacing="0.05em" word-spacing="0.2em" textLength="16.06" lengthAdjust="spacingAndGlyphs" text-rendering="geometricPrecision" x="582.69" y="411.84" xml:space="preserve">10</text>
<text id="xb_15" font-family="Liberation Sans, sans-serif" font-size="15.70" fill="#000" letter-spacing="0.05em" word-spacing="0.2em" textLength="17.43" lengthAdjust="spacingAndGlyphs" text-rendering="geometricPrecision" x="662.97" y="411.72" xml:space="preserve">15</text>
<text id="xb_20" font-family="Liberation Sans, sans-serif" font-size="15.70" fill="#000" letter-spacing="0.05em" word-spacing="0.2em" textLength="17.54" lengthAdjust="spacingAndGlyphs" text-rendering="geometricPrecision" x="743.48" y="412.33" xml:space="preserve">20</text>
<text id="freq" font-family="Liberation Sans, sans-serif" font-size="15.70" fill="#000" letter-spacing="0.05em" word-spacing="0.2em" textLength="110.57" lengthAdjust="spacingAndGlyphs" text-rendering="geometricPrecision" x="534.82" y="425.00" xml:space="preserve">Frequency (GHz)</text>
</svg>
</body></html>
